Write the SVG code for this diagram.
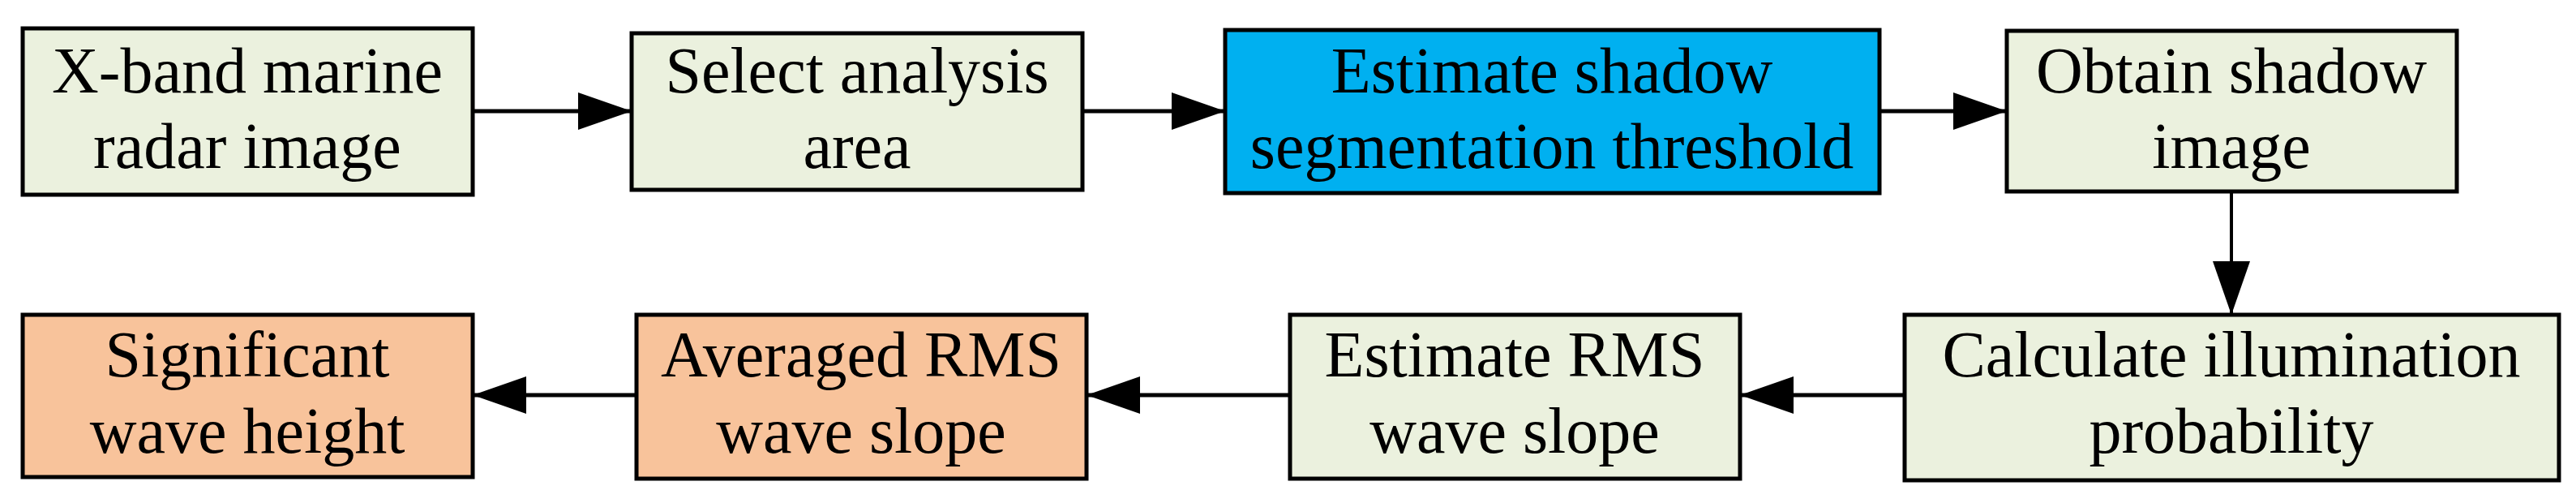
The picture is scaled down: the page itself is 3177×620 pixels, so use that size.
<svg xmlns="http://www.w3.org/2000/svg" width="3177" height="620" viewBox="0 0 3177 620">
<style>
rect{stroke:#000;stroke-width:5}
.g{fill:#EBF1DE}.b{fill:#00B0F0}.o{fill:#F8C39B}
text{font-family:"Liberation Serif","Times New Roman",serif;font-size:80px;text-anchor:middle;fill:#000}
.c line{stroke:#000;stroke-width:5}
</style>
<defs><marker id="a" viewBox="0 0 66 46" refX="66" refY="23" markerWidth="66" markerHeight="46" markerUnits="userSpaceOnUse" orient="auto"><path d="M0,0L66,23L0,46z" fill="#000"/></marker></defs>
<g id="n1"><rect class="g" x="28" y="35" width="555" height="205"/><text x="305" y="114">X-band marine</text><text x="305" y="207">radar image</text></g>
<g id="n2"><rect class="g" x="779" y="41" width="556" height="193"/><text x="1057" y="114">Select analysis</text><text x="1057" y="207">area</text></g>
<g id="n3"><rect class="b" x="1511" y="37" width="807" height="201"/><text x="1914" y="114">Estimate shadow</text><text x="1914" y="207">segmentation threshold</text></g>
<g id="n4"><rect class="g" x="2475" y="38" width="555" height="198"/><text x="2752" y="114">Obtain shadow</text><text x="2752" y="207">image</text></g>
<g id="n5"><rect class="g" x="2349" y="388" width="807" height="204"/><text x="2752" y="464">Calculate illumination</text><text x="2752" y="558">probability</text></g>
<g id="n6"><rect class="g" x="1591" y="388" width="555" height="202"/><text x="1868" y="464">Estimate RMS</text><text x="1868" y="558">wave slope</text></g>
<g id="n7"><rect class="o" x="785" y="388" width="555" height="202"/><text x="1062" y="464">Averaged RMS</text><text x="1062" y="558">wave slope</text></g>
<g id="n8"><rect class="o" x="28" y="388" width="555" height="200"/><text x="305" y="464">Significant</text><text x="305" y="558">wave height</text></g>
<g class="c" id="connectors">
<line x1="583" y1="137" x2="779" y2="137" marker-end="url(#a)"/>
<line x1="1335" y1="137" x2="1511" y2="137" marker-end="url(#a)"/>
<line x1="2318" y1="137" x2="2475" y2="137" marker-end="url(#a)"/>
<line x1="2752" y1="236" x2="2752" y2="388" style="stroke-width:4" marker-end="url(#a)"/>
<line x1="2349" y1="487" x2="2146" y2="487" marker-end="url(#a)"/>
<line x1="1591" y1="487" x2="1340" y2="487" marker-end="url(#a)"/>
<line x1="785" y1="487" x2="583" y2="487" marker-end="url(#a)"/>
</g>
</svg>
